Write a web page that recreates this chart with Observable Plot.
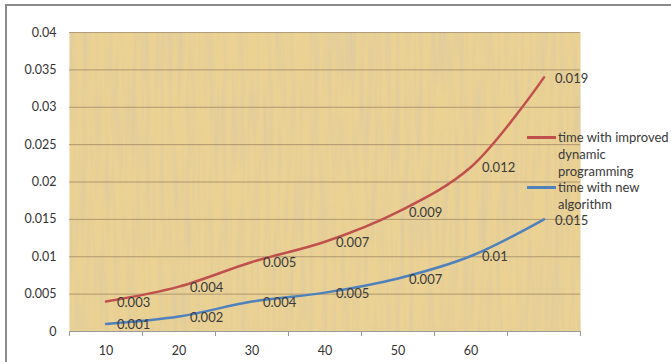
<!DOCTYPE html>
<html>
<head>
<meta charset="utf-8">
<script src="https://cdn.jsdelivr.net/npm/d3@7"></script>
<script src="https://cdn.jsdelivr.net/npm/@observablehq/plot@0.6"></script>
<style>
  html, body { margin: 0; padding: 0; background: #fff; }
  #wrap { position: relative; width: 671px; height: 362px; overflow: hidden; font-family: Lato, "Open Sans", sans-serif; }
  #border { position: absolute; left: 5px; top: 4px; width: 700px; height: 400px; border-left: 2px solid #8c8c8c; border-top: 2px solid #8c8c8c; pointer-events: none; }
  #legend { position: absolute; left: 527px; top: 129px; font-size: 13px; color: #3a3a3a; line-height: 17px; white-space: nowrap; }
  .item { position: relative; padding-left: 31px; }
  .item + .item { margin-top: -1px; }
  .swatch { position: absolute; left: 0; top: 7px; width: 29px; height: 3px; }
</style>
</head>
<body>
<div id="wrap">
  <div id="chart"></div>
  <div id="border"></div>
  <div id="legend"></div>
</div>
<script>
// categories (x values); the 7th category has a blank label
const categories = [10, 20, 30, 40, 50, 60, 70];
const xTickLabels = [10, 20, 30, 40, 50, 60];
const categoryBounds = [5, 15, 25, 35, 45, 55, 65, 75];
const yTicks = [0, 0.005, 0.01, 0.015, 0.02, 0.025, 0.03, 0.035, 0.04];

const seriesNames = ["time with improved dynamic programming", "time with new algorithm"];
const improvedValues = [0.004, 0.006, 0.0093, 0.012, 0.016, 0.022, 0.034];
const improvedLabels = ["0.003", "0.004", "0.005", "0.007", "0.009", "0.012", "0.019"];
const newValues = [0.001, 0.002, 0.004, 0.0052, 0.0071, 0.0101, 0.015];
const newLabels = ["0.001", "0.002", "0.004", "0.005", "0.007", "0.01", "0.015"];
const colors = ["#C0504D", "#4F81BD"];

const data = [];
categories.forEach((c, i) => {
  data.push({series: seriesNames[0], x: c, y: improvedValues[i], label: improvedLabels[i]});
  data.push({series: seriesNames[1], x: c, y: newValues[i], label: newLabels[i]});
});

const chart = Plot.plot({
  width: 671,
  height: 362,
  marginLeft: 69,
  marginRight: 91,
  marginTop: 32,
  marginBottom: 31,
  style: {fontFamily: "Lato, 'Open Sans', sans-serif", fontSize: "12px", color: "#333", background: "transparent", overflow: "visible"},
  x: {type: "linear", domain: [5, 75]},
  y: {domain: [0, 0.04]},
  color: {domain: seriesNames, range: colors},
  marks: [
    Plot.frame({fill: "#EBD293", stroke: null}),
    Plot.gridY(yTicks, {stroke: "#9c8460", strokeOpacity: 0.75, strokeWidth: 1}),
    Plot.ruleY([0], {stroke: "#9a9a9a", strokeWidth: 1}),
    Plot.axisY(yTicks, {tickSize: 0, tickPadding: 13, label: null, fontSize: 12.5, fill: "#333",
      tickFormat: d => String(+d.toFixed(3))}),
    Plot.axisX(categoryBounds, {tickSize: 5, stroke: "#9a9a9a", tickFormat: () => "", label: null}),
    Plot.axisX(xTickLabels, {tickSize: 0, tickPadding: 15, label: null, fontSize: 12.5, fill: "#333", tickFormat: d => String(d)}),
    Plot.line(data, {x: "x", y: "y", z: "series", stroke: "series", strokeWidth: 2.5, curve: "catmull-rom"}),
    Plot.text(data, {x: "x", y: "y", text: "label", dx: 11, dy: 1, textAnchor: "start", fontSize: 13, fill: "#3a3a3a"})
  ]
});
document.getElementById("chart").appendChild(chart);

// papyrus-like texture for the plot background
const svg = d3.select(chart);
const defs = svg.insert("defs", ":first-child");
const f = defs.append("filter").attr("id", "papyrus").attr("filterUnits", "objectBoundingBox")
  .attr("x", 0).attr("y", 0).attr("width", 1).attr("height", 1);
f.append("feTurbulence").attr("type", "fractalNoise").attr("baseFrequency", "0.22 0.012").attr("numOctaves", 2).attr("seed", 4).attr("result", "n");
f.append("feColorMatrix").attr("in", "n").attr("type", "matrix")
  .attr("values", "0 0 0 0 0.70  0 0 0 0 0.58  0 0 0 0 0.36  1.6 0 0 0 -0.62").attr("result", "c");
f.append("feComposite").attr("in", "c").attr("in2", "SourceGraphic").attr("operator", "in").attr("result", "ci");
const m = f.append("feMerge");
m.append("feMergeNode").attr("in", "SourceGraphic");
m.append("feMergeNode").attr("in", "ci");
svg.selectAll("[aria-label=frame]").each(function() {
  if (this.tagName.toLowerCase() === "rect") d3.select(this).attr("filter", "url(#papyrus)");
  else d3.select(this).selectAll("rect").attr("filter", "url(#papyrus)");
});

// legend
const legend = document.getElementById("legend");
const legendLines = [["time with improved", "dynamic", "programming"], ["time with new", "algorithm"]];
legendLines.forEach((lines, i) => {
  const item = document.createElement("div");
  item.className = "item";
  const sw = document.createElement("span");
  sw.className = "swatch";
  sw.style.background = colors[i];
  item.appendChild(sw);
  lines.forEach(t => { const d = document.createElement("div"); d.textContent = t; item.appendChild(d); });
  legend.appendChild(item);
});
</script>
</body>
</html>
